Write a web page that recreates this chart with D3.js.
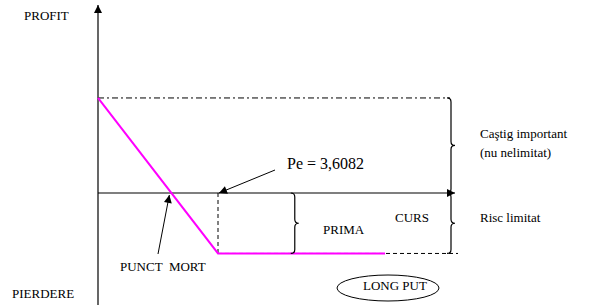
<!DOCTYPE html>
<html><head><meta charset="utf-8">
<script src="https://cdn.jsdelivr.net/npm/d3@7"></script>
<style>body{margin:0;background:#fff}svg{display:block}</style>
</head><body><svg id="c" width="604" height="305"></svg>
<script>
// Data (price = curs, profit)
const strike = 3.6082;
const breakEven = 2.2052;
const maxProfit = 2.2;
const premium = -1.4;
const priceMax = 10.733;
const payoffPrice = [0, strike, 8.63];
const payoffProfit = [maxProfit, premium, premium];
const labels = {profit:"PROFIT", loss:"PIERDERE", pe:"Pe = 3,6082", punct:"PUNCT  MORT", prima:"PRIMA", curs:"CURS", gain1:"Caştig important", gain2:"(nu nelimitat)", risk:"Risc limitat", title:"LONG PUT"};

const svg = d3.select("#c");
const x = d3.scaleLinear().domain([0, priceMax]).range([98, 455]);
const y = d3.scaleLinear().domain([-2.593, 4.375]).range([305, 4]);

const defs = svg.append("defs");
defs.append("marker").attr("id","ah").attr("viewBox","0 0 10 10").attr("refX",10).attr("refY",5)
  .attr("markerWidth",10).attr("markerHeight",8).attr("markerUnits","userSpaceOnUse").attr("orient","auto")
  .append("path").attr("d","M0,0L10,5L0,10z").attr("fill","#000");

// Y axis
svg.append("line").attr("x1",x(0)).attr("x2",x(0)).attr("y1",305).attr("y2",y(4.375)+1)
  .attr("stroke","#000").attr("stroke-width",1.2).attr("marker-end","url(#ah)");
// X axis
svg.append("line").attr("x1",x(0)).attr("x2",x(priceMax)).attr("y1",y(0)).attr("y2",y(0))
  .attr("stroke","#000").attr("stroke-width",1.2).attr("marker-end","url(#ah)");

// Dash-dot at max profit
svg.append("line").attr("x1",x(0)).attr("x2",x(priceMax)-5).attr("y1",y(maxProfit)).attr("y2",y(maxProfit))
  .attr("stroke","#000").attr("stroke-dasharray","6,3,2,3");
// Dashed at premium level
svg.append("line").attr("x1",x(strike)).attr("x2",x(priceMax)+3).attr("y1",y(premium)).attr("y2",y(premium))
  .attr("stroke","#000").attr("stroke-dasharray","4,3");
// Vertical dashed at strike
svg.append("line").attr("x1",x(strike)).attr("x2",x(strike)).attr("y1",y(0)).attr("y2",y(premium))
  .attr("stroke","#000").attr("stroke-dasharray","4,3");

// Payoff
const line = d3.line().x((d,i)=>x(payoffPrice[i])).y((d,i)=>y(payoffProfit[i]));
svg.append("path").attr("d",line(payoffPrice)).attr("fill","none").attr("stroke","#ff00ff").attr("stroke-width",2);

// Braces (opening to left, pointing right)
function brace(bx, y1, y2, w) {
  const m = (y1+y2)/2, r = 4;
  const p = `M${bx-r},${y1} Q${bx},${y1} ${bx},${y1+r} L${bx},${m-r} Q${bx},${m} ${bx+w},${m} Q${bx},${m} ${bx},${m+r} L${bx},${y2-r} Q${bx},${y2} ${bx-r},${y2}`;
  svg.append("path").attr("d",p).attr("fill","none").attr("stroke","#000").attr("stroke-width",1.2);
}
brace(x(priceMax)-4, y(maxProfit), y(0), 4);
brace(x(priceMax)-4, y(0), y(premium), 4);
brace(x(5.916), y(0), y(premium), 4);

// Arrows
svg.append("line").attr("x1",275).attr("y1",170).attr("x2",x(strike)+1).attr("y2",y(0))
  .attr("stroke","#000").attr("marker-end","url(#ah)");
svg.append("line").attr("x1",158).attr("y1",254).attr("x2",x(breakEven)-2).attr("y2",y(0)+2)
  .attr("stroke","#000").attr("marker-end","url(#ah)");

// Ellipse
svg.append("ellipse").attr("cx",388).attr("cy",288).attr("rx",51).attr("ry",13)
  .attr("fill","none").attr("stroke","#000");

const t = (s,xx,yy,fs)=>svg.append("text").attr("x",xx).attr("y",yy).attr("font-size",fs)
  .attr("font-family","'Liberation Serif', 'DejaVu Serif', serif").attr("fill","#000")
  .attr("xml:space","preserve").style("white-space","pre").text(s);
t(labels.profit,24,20,13);
t(labels.loss,12,298,13);
t(labels.pe,287,169,16);
t(labels.punct,120,271,13);
t(labels.prima,323,234,13);
t(labels.curs,395,222,13);
t(labels.gain1,480,138,13);
t(labels.gain2,480,157,13);
t(labels.risk,480,222,13);
t(labels.title,363,290,13);
</script></body></html>
